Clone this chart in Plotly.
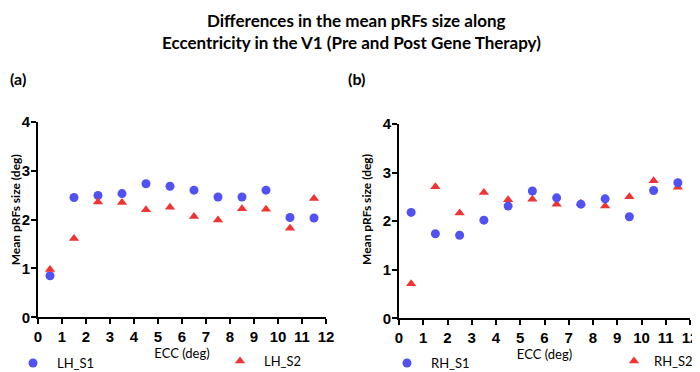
import plotly.graph_objects as go

ecc = [0.5, 1.5, 2.5, 3.5, 4.5, 5.5, 6.5, 7.5, 8.5, 9.5, 10.5, 11.5]
lh_s1 = [0.85, 2.45, 2.49, 2.53, 2.73, 2.68, 2.60, 2.46, 2.46, 2.60, 2.04, 2.03]
lh_s2 = [0.98, 1.61, 2.36, 2.35, 2.20, 2.25, 2.06, 1.99, 2.22, 2.21, 1.82, 2.43]
rh_s1 = [2.18, 1.74, 1.71, 2.02, 2.31, 2.62, 2.48, 2.35, 2.46, 2.09, 2.63, 2.79]
rh_s2 = [0.71, 2.71, 2.17, 2.59, 2.44, 2.45, 2.35, 2.37, 2.31, 2.50, 2.83, 2.70]
x_ticks = list(range(0, 13))
y_ticks = [0, 1, 2, 3, 4]

BLUE = "#5252f2"
RED = "#f03434"
LABEL_FONT = "Lato"
TICK_FONT = "Liberation Sans"

# The page body has an 8px margin; figure is sized to fit the 700x372 window.
OFF = 8
W, H = 700 - OFF, 372 - OFF


def px(X):
    return (X - OFF) / W


def py(Y):
    return 1 - (Y - OFF) / H


fig = go.Figure()
fig.add_trace(go.Scatter(x=ecc, y=lh_s1, mode="markers", name="LH_S1",
                         marker=dict(symbol="circle", size=9, color=BLUE),
                         xaxis="x", yaxis="y", legend="legend"))
fig.add_trace(go.Scatter(x=ecc, y=lh_s2, mode="markers", name="LH_S2",
                         marker=dict(symbol="triangle-up", size=9, color=RED),
                         xaxis="x", yaxis="y", legend="legend2"))
fig.add_trace(go.Scatter(x=ecc, y=rh_s2, mode="markers", name="RH_S2",
                         marker=dict(symbol="triangle-up", size=9, color=RED),
                         xaxis="x2", yaxis="y2", legend="legend4"))
fig.add_trace(go.Scatter(x=ecc, y=rh_s1, mode="markers", name="RH_S1",
                         marker=dict(symbol="circle", size=9, color=BLUE),
                         xaxis="x2", yaxis="y2", legend="legend3"))

axis_common = dict(showline=True, linecolor="black", linewidth=2, ticks="outside",
                   ticklen=5, tickwidth=2, tickcolor="black", showgrid=False,
                   zeroline=False, mirror=False, automargin=False,
                   tickfont=dict(family=TICK_FONT, size=15, color="black"))

xcommon = dict(axis_common, range=[0, 12], tickvals=x_ticks,
               ticktext=["<b>%d</b>" % v for v in x_ticks])
ycommon = dict(axis_common, range=[0, 4], tickvals=y_ticks, ticklabelstandoff=-2,
               ticktext=["<b>%d</b>" % v for v in y_ticks])

xtitle = dict(text="ECC (deg)", font=dict(family=LABEL_FONT, size=13, color="black"), standoff=4)

ITEMW = 38
SYM = ITEMW / 2 + 5
legend_common = dict(orientation="v", yanchor="middle", xanchor="left",
                     bgcolor="rgba(0,0,0,0)", borderwidth=0, itemwidth=ITEMW,
                     font=dict(family=LABEL_FONT, size=13, color="black"))

title_font = dict(family=LABEL_FONT, size=17, color="black")
ylab_font = dict(family=LABEL_FONT, size=12, color="black")

fig.update_layout(
    width=W, height=H,
    margin=dict(l=0, r=0, t=0, b=0, autoexpand=False),
    paper_bgcolor="white", plot_bgcolor="white",
    xaxis=dict(xcommon, domain=[px(38), px(326)], anchor="y", title=xtitle),
    yaxis=dict(ycommon, domain=[py(317.3), py(121.7)], anchor="x"),
    xaxis2=dict(xcommon, domain=[px(399), px(690)], anchor="y2", title=xtitle),
    yaxis2=dict(ycommon, domain=[py(318.3), py(124)], anchor="x2"),
    legend=dict(legend_common, x=px(33 - SYM), y=py(363)),
    legend2=dict(legend_common, x=px(240 - SYM), y=py(361)),
    legend3=dict(legend_common, x=px(407 - SYM), y=py(363)),
    legend4=dict(legend_common, itemwidth=30, x=px(698), xanchor="right", y=py(361)),
    showlegend=True,
    annotations=[
        dict(text="<b>Differences in the mean pRFs size along</b>", x=px(356), y=py(OFF),
             xref="paper", yref="paper", showarrow=False, xanchor="center", yanchor="top",
             font=title_font),
        dict(text="<b>Eccentricity in the V1 (Pre and Post Gene Therapy)</b>", x=px(351),
             y=py(OFF + 22), xref="paper", yref="paper", showarrow=False,
             xanchor="center", yanchor="top", font=title_font),
        dict(text="<b>(a)</b>", x=px(OFF), y=py(79), xref="paper", yref="paper",
             showarrow=False, xanchor="left", yanchor="middle",
             font=dict(family=LABEL_FONT, size=16, color="black")),
        dict(text="<b>(b)</b>", x=px(346), y=py(79), xref="paper", yref="paper",
             showarrow=False, xanchor="left", yanchor="middle",
             font=dict(family=LABEL_FONT, size=16, color="black")),
        dict(text="<b>Mean pRFs size (deg)</b>", x=px(15.3), y=py(210), xref="paper", yref="paper",
             showarrow=False, xanchor="center", yanchor="middle", textangle=-90,
             font=ylab_font),
        dict(text="<b>Mean pRFs size (deg)</b>", x=px(366), y=py(210), xref="paper", yref="paper",
             showarrow=False, xanchor="center", yanchor="middle", textangle=-90,
             font=ylab_font),
    ],
)

fig.write_html("out.html")
